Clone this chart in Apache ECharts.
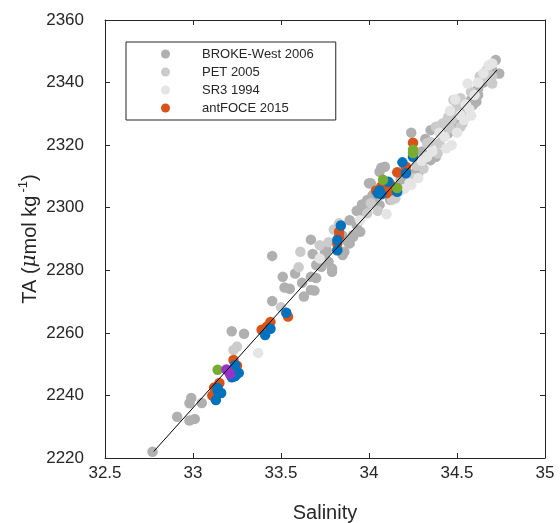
<!DOCTYPE html>
<html>
<head>
<meta charset="utf-8">
<script src="https://cdn.jsdelivr.net/npm/echarts@6/dist/echarts.min.js"></script>
<style>
  html, body { margin: 0; padding: 0; background: #fff; }
  #chart { width: 560px; height: 523px; }
</style>
</head>
<body>
<div id="chart"></div>
<script>
// ==========================================================================
// DONNEES : [salinite, TA]

var brokeWest = [
  [32.77, 2222.0], [32.91, 2233.2], [32.98, 2232.0], [33.01, 2232.5],
  [32.99, 2239.2], [32.98, 2237.5], [33.05, 2237.6],
  [33.22, 2260.5], [33.29, 2259.7],
  [33.45, 2270.2], [33.63, 2271.6], [33.67, 2273.7], [33.69, 2273.5],
  [33.51, 2277.9], [33.52, 2274.5], [33.55, 2274.1],
  [33.45, 2284.6], [33.67, 2289.8], [33.68, 2285.2],
  [33.67, 2277.9], [33.70, 2277.5], [33.70, 2281.7], [33.75, 2285.6],
  [33.79, 2279.5], [33.77, 2282.7], [33.82, 2286.5], [33.85, 2284.9],
  [33.89, 2288.6], [33.91, 2291.3], [33.76, 2286.3], [33.75, 2283.8],
  [33.73, 2281.1], [33.79, 2280.6], [33.86, 2285.9], [33.88, 2289.1],
  [33.91, 2290.7], [33.95, 2292.3], [33.89, 2296.0], [33.97, 2298.2],
  [33.93, 2294.5], [34.00, 2307.8], [34.07, 2312.8], [34.01, 2307.8],
  [33.98, 2300.3], [34.24, 2324.0], [34.09, 2313.1], [34.06, 2311.5],
  [33.99, 2302.5], [34.03, 2301.9], [34.06, 2300.9], [34.12, 2302.5],
  [34.72, 2347.2], [34.74, 2342.9], [34.62, 2338.1], [34.62, 2336.0],
  [34.61, 2333.9], [34.59, 2332.8], [34.56, 2331.2], [34.55, 2329.1],
  [34.50, 2326.4], [34.44, 2325.9], [34.41, 2326.4], [34.38, 2325.4],
  [34.35, 2324.8], [34.45, 2323.8], [34.42, 2322.7], [34.30, 2314.2],
  [34.26, 2311.0], [34.28, 2311.0], [34.35, 2315.2], [34.38, 2316.3],
  [34.15, 2306.0], [34.18, 2309.0], [34.20, 2308.0], [34.30, 2318.0],
  [34.32, 2322.0], [34.48, 2331.0], [34.53, 2327.0], [34.65, 2340.0],
  [34.70, 2344.0], [33.93, 2299.0], [33.96, 2301.0], [34.02, 2304.0],
  [33.85, 2291.0], [33.62, 2276.0], [33.58, 2279.0], [34.58, 2334.5]
];

var pet2005 = [
  [33.25, 2255.6], [33.23, 2254.5], [33.50, 2268.2], [33.61, 2285.9],
  [33.60, 2281.0], [33.80, 2293.0], [33.72, 2288.0],
  [34.67, 2344.0], [34.70, 2339.7], [34.66, 2341.3], [34.52, 2335.0],
  [34.48, 2334.4], [34.49, 2329.6], [34.47, 2328.0], [34.52, 2325.9],
  [34.46, 2325.4], [34.40, 2320.6], [34.39, 2317.4], [34.33, 2320.6],
  [34.38, 2325.9], [34.20, 2312.6], [34.13, 2302.5], [34.01, 2301.4],
  [33.99, 2298.2], [34.25, 2309.5], [34.31, 2312.5],
  [34.35, 2321.0], [34.42, 2327.0], [34.50, 2332.0], [34.58, 2337.0],
  [34.63, 2342.0], [34.27, 2313.5], [34.15, 2303.0], [34.05, 2299.0],
  [33.83, 2295.0], [33.77, 2289.0], [34.70, 2342.0], [34.45, 2329.0]
];

var sr31994 = [
  [33.37, 2253.6], [33.72, 2283.8], [34.23, 2307.8], [34.24, 2307.3],
  [34.56, 2339.7], [34.49, 2334.6], [34.70, 2346.1], [34.54, 2328.0],
  [34.43, 2322.7], [34.36, 2318.0], [34.17, 2305.0], [34.10, 2298.0],
  [33.95, 2296.0], [34.60, 2336.0], [34.65, 2343.0], [34.52, 2329.6],
  [34.33, 2316.3], [34.47, 2320.0], [34.57, 2331.5], [34.44, 2319.0],
  [34.40, 2324.0], [34.46, 2331.0], [34.55, 2333.0], [34.62, 2340.0],
  [34.68, 2345.5], [34.30, 2315.0], [34.20, 2306.0], [34.28, 2309.5],
  [34.50, 2324.0], [34.58, 2329.5]
];

var antFoce2015 = [
  [33.12, 2242.5], [33.11, 2240.0], [33.15, 2244.0], [33.23, 2251.3],
  [33.23, 2248.4], [33.25, 2249.5], [33.44, 2263.5], [33.42, 2262.0],
  [33.39, 2261.0], [33.54, 2265.2], [33.83, 2290.7], [33.83, 2292.3],
  [33.82, 2288.5], [34.04, 2305.5], [34.10, 2304.6], [34.12, 2305.5],
  [34.16, 2311.3], [34.21, 2313.1], [34.21, 2311.5], [34.25, 2320.8],
  [34.12, 2307.5], [34.07, 2306.8]
];

var autresBleu = [
  [33.14, 2242.4], [33.14, 2241.5], [33.13, 2238.5], [33.16, 2240.8],
  [33.22, 2245.8], [33.24, 2246.2], [33.23, 2246.0], [33.26, 2247.2],
  [33.24, 2249.7], [33.44, 2261.3], [33.41, 2259.3], [33.53, 2266.4],
  [33.84, 2294.3], [33.82, 2289.7], [33.82, 2286.4], [34.05, 2304.6],
  [34.07, 2304.3], [34.11, 2308.3], [34.16, 2305.1], [34.21, 2311.0],
  [34.19, 2314.5], [34.25, 2316.3], [34.06, 2305.5]
];

var autresVert = [
  [33.14, 2248.2], [34.08, 2308.9], [34.16, 2306.3], [34.25, 2318.5],
  [34.25, 2317.5]
];

var autresViolet = [
  [33.19, 2248.3], [33.21, 2246.8]
];

// droite de regression (extremites)
var regS = [32.777, 34.727];
var regTA = [2222.1, 2344.0];

var legendNames = ['BROKE-West 2006', 'PET 2005', 'SR3 1994', 'antFOCE 2015'];
var xTicks = {min: 32.5, max: 35, interval: 0.5};
var yTicks = {min: 2220, max: 2360, interval: 20};

// ==========================================================================
var fontFamily = '"Liberation Sans", Arial, Helvetica, sans-serif';
var axisColor = '#262626';

function scatterSerie(name, data, color) {
  return {
    name: name,
    type: 'scatter',
    data: data,
    symbol: 'circle',
    symbolSize: 10.5,
    itemStyle: {color: color, opacity: 1},
    silent: true
  };
}

function axisBase(extra) {
  var base = {
    type: 'value',
    axisLine: {show: true, lineStyle: {color: axisColor, width: 1}},
    axisTick: {show: true, inside: true, length: 5, lineStyle: {color: axisColor}},
    splitLine: {show: false},
    axisLabel: {color: axisColor, fontSize: 16, fontFamily: fontFamily}
  };
  return Object.assign(base, extra);
}

var chart = echarts.init(document.getElementById('chart'), null, {renderer: 'canvas'});

var option = {
  animation: false,
  backgroundColor: '#fff',
  grid: {left: 105, right: 15, top: 20, bottom: 65, outerBoundsMode: 'none'},
  legend: {
    data: legendNames,
    orient: 'vertical',
    left: 126,
    top: 42,
    padding: [5, 22, 5, 35],
    itemWidth: 9,
    itemHeight: 9,
    itemGap: 4,
    icon: 'circle',
    borderColor: axisColor,
    borderWidth: 1,
    borderRadius: 0,
    backgroundColor: '#fff',
    textStyle: {
      color: axisColor,
      fontSize: 13,
      lineHeight: 14,
      fontFamily: fontFamily,
      padding: [0, 0, 0, 27]
    }
  },
  xAxis: [
    axisBase({
      position: 'bottom',
      min: xTicks.min, max: xTicks.max, interval: xTicks.interval,
      axisLabel: {color: axisColor, fontSize: 17, fontFamily: fontFamily, margin: 7},
      name: 'Salinity',
      nameLocation: 'middle',
      nameGap: 45,
      nameTextStyle: {color: axisColor, fontSize: 20, fontFamily: fontFamily}
    }),
    axisBase({
      position: 'top',
      min: xTicks.min, max: xTicks.max, interval: xTicks.interval,
      axisLabel: {show: false}
    })
  ],
  yAxis: [
    axisBase({
      position: 'left',
      min: yTicks.min, max: yTicks.max, interval: yTicks.interval,
      axisLabel: {
        color: axisColor, fontSize: 17, fontFamily: fontFamily, margin: 21,
        formatter: function (v) { return String(v); }
      },
      name: 'TA ({mu|μ}mol kg{sup|-1})',
      nameLocation: 'middle',
      nameGap: 62,
      nameMoveOverlap: false,
      nameTextStyle: {
        color: axisColor,
        fontSize: 20,
        fontFamily: fontFamily,
        lineHeight: 26,
        rich: {
          mu: {color: axisColor, fontSize: 20, fontFamily: '"DejaVu Serif", serif', fontStyle: 'italic', lineHeight: 26},
          sup: {color: axisColor, fontSize: 13, fontFamily: fontFamily, verticalAlign: 'top', lineHeight: 14, padding: [0, 0, 0, 3]}
        }
      }
    }),
    axisBase({
      position: 'right',
      min: yTicks.min, max: yTicks.max, interval: yTicks.interval,
      axisLabel: {show: false}
    })
  ],
  series: [
    scatterSerie('BROKE-West 2006', brokeWest, '#b0b0b0'),
    scatterSerie('PET 2005', pet2005, '#cbcbcb'),
    scatterSerie('SR3 1994', sr31994, '#e5e5e5'),
    scatterSerie('antFOCE 2015', antFoce2015, '#d95319'),
    scatterSerie('bleu', autresBleu, '#0072bd'),
    scatterSerie('vert', autresVert, '#77ac30'),
    scatterSerie('violet', autresViolet, '#9a32c8'),
    {
      name: 'regression',
      type: 'line',
      data: [[regS[0], regTA[0]], [regS[1], regTA[1]]],
      symbol: 'none',
      lineStyle: {color: '#000', width: 1},
      silent: true,
      z: 5
    }
  ]
};

chart.setOption(option);
</script>
</body>
</html>
